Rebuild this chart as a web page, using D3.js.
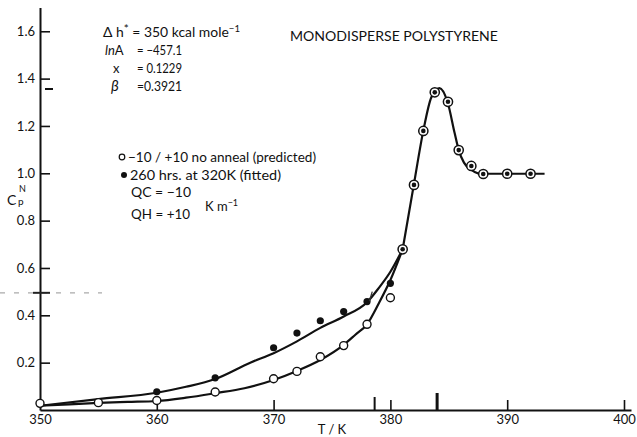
<!DOCTYPE html>
<html>
<head>
<meta charset="utf-8">
<script src="https://cdn.jsdelivr.net/npm/d3@7"></script>
<style>
  body { margin: 0; background: #fff; }
  text { font-family: Lato, "DejaVu Sans", sans-serif; fill: #111; }
</style>
</head>
<body>
<script>
// axis ticks
const xTicks = [350, 360, 370, 380, 390, 400];
const yTicks = [0.2, 0.4, 0.6, 0.8, 1.0, 1.2, 1.4, 1.6];

// open circles: -10/+10 no anneal (predicted)
const predictedT = [350, 355, 360, 365, 370, 372, 374, 376, 378, 380];
const predictedV = [0.028, 0.031, 0.040, 0.076, 0.132, 0.163, 0.225, 0.272, 0.362, 0.474];

// filled dots: 260 hrs at 320K (fitted)
const fittedT = [360, 365, 370, 372, 374, 376, 378, 380];
const fittedV = [0.077, 0.136, 0.263, 0.325, 0.377, 0.416, 0.458, 0.535];

// points where both coincide
const sharedT = [381.05, 382.02, 382.82, 383.8, 384.93, 385.85, 386.93, 387.95, 390, 392];
const sharedV = [0.679, 0.951, 1.179, 1.342, 1.302, 1.098, 1.031, 0.997, 0.998, 0.998];

// drawn curves
const predCurveT = [350, 352.5, 355, 357.5, 360, 362.5, 365, 367.5, 370, 372, 374, 376, 377, 378, 379, 380, 381.05];
const predCurveV = [0.018, 0.024, 0.030, 0.034, 0.038, 0.052, 0.071, 0.092, 0.127, 0.165, 0.211, 0.275, 0.318, 0.362, 0.450, 0.549, 0.679];
const fitCurveT = [350, 355, 360, 362.5, 365, 368, 370, 372, 374, 376, 378, 379, 380, 381.05];
const fitCurveV = [0.018, 0.046, 0.073, 0.098, 0.131, 0.2, 0.24, 0.29, 0.347, 0.395, 0.455, 0.515, 0.584, 0.679];
const peakCurveT = [381.05, 382, 382.8, 383.5, 384.2, 384.9, 385.5, 385.85, 386.3, 386.9, 387.5, 388, 390, 392, 393.2];
const peakCurveV = [0.679, 0.95, 1.175, 1.32, 1.36, 1.30, 1.17, 1.098, 1.045, 1.015, 1.0, 0.998, 0.998, 0.998, 0.998];

// pencil marks on the axes
const axisMarksT = [378.65, 384.0];
const peakMarkV = 1.356;

const svg = d3.select("body").append("svg")
    .attr("width", 637).attr("height", 437);

let x = d3.scaleLinear().domain([350, 400.6]).range([40, 631]);
let y = d3.scaleLinear().domain([0, 1.7]).range([410, 7.6]);

// axes
let xAxis = svg.append("g")
    .attr("transform", "translate(0," + y(0) + ")")
    .call(d3.axisBottom(x).tickValues(xTicks).tickSizeInner(-10).tickSizeOuter(0).tickPadding(5));
let yAxis = svg.append("g")
    .attr("transform", "translate(" + x(350) + ",0)")
    .call(d3.axisLeft(y).tickValues(yTicks).tickSizeInner(-10).tickSizeOuter(0).tickPadding(5)
        .tickFormat(d3.format(".1f")));

[xAxis, yAxis].forEach(function(g){
    g.select(".domain").attr("stroke", "#111").attr("stroke-width", 2);
    g.selectAll(".tick line").attr("stroke", "#111").attr("stroke-width", 1.6);
    g.selectAll(".tick text").attr("font-size", 13).attr("font-family", "Lato").attr("fill", "#111");
});
xAxis.selectAll(".tick").filter(function(d){ return d === 350; }).select("line").remove();

// extra marks
svg.selectAll(".amark").data(axisMarksT).enter().append("line")
    .attr("x1", function(d){ return x(d); }).attr("x2", function(d){ return x(d); })
    .attr("y1", function(d, i){ return y(0) - (i ? 17 : 13); }).attr("y2", y(0))
    .attr("stroke", "#111").attr("stroke-width", function(d, i){ return i ? 3 : 2; });
svg.append("line")
    .attr("x1", x(350) + 5).attr("x2", x(350) + 13)
    .attr("y1", y(peakMarkV)).attr("y2", y(peakMarkV))
    .attr("stroke", "#111").attr("stroke-width", 2);
svg.append("line")
    .attr("x1", 0).attr("x2", 102)
    .attr("y1", y(0.495)).attr("y2", y(0.495))
    .attr("stroke", "#aaa").attr("stroke-width", 1.2).attr("stroke-dasharray", "5,9");
svg.append("line")
    .attr("x1", 33).attr("x2", 50)
    .attr("y1", y(0.495)).attr("y2", y(0.495))
    .attr("stroke", "#222").attr("stroke-width", 2);

// curves
let line = d3.line()
    .x(function(d){ return x(d[0]); })
    .y(function(d){ return y(d[1]); })
    .curve(d3.curveMonotoneX);

[[predCurveT, predCurveV], [fitCurveT, fitCurveV], [peakCurveT, peakCurveV]].forEach(function(c){
    svg.append("path")
        .datum(d3.zip(c[0], c[1]))
        .attr("d", line)
        .attr("fill", "none")
        .attr("stroke", "#111")
        .attr("stroke-width", 2.2);
});

// markers
svg.selectAll(".pred").data(d3.zip(predictedT, predictedV)).enter().append("circle")
    .attr("cx", function(d){ return x(d[0]); }).attr("cy", function(d){ return y(d[1]); })
    .attr("r", 4).attr("fill", "#fff").attr("stroke", "#111").attr("stroke-width", 1.4);
svg.selectAll(".fit").data(d3.zip(fittedT, fittedV)).enter().append("circle")
    .attr("cx", function(d){ return x(d[0]); }).attr("cy", function(d){ return y(d[1]); })
    .attr("r", 3.6).attr("fill", "#111");
let shared = svg.selectAll(".shared").data(d3.zip(sharedT, sharedV)).enter().append("g")
    .attr("transform", function(d){ return "translate(" + x(d[0]) + "," + y(d[1]) + ")"; });
shared.append("circle").attr("r", 4.6).attr("fill", "#fff").attr("stroke", "#111").attr("stroke-width", 1.5);
shared.append("circle").attr("r", 2.3).attr("fill", "#111");

// stray pencil stroke
svg.append("line").attr("x1", x(378.2)).attr("y1", y(0.46)).attr("x2", x(378.45)).attr("y2", y(0.5))
    .attr("stroke", "#333").attr("stroke-width", 1.3);

// axis titles
svg.append("text").attr("x", 7).attr("y", 205).attr("font-size", 14).text("C");
svg.append("text").attr("x", 18).attr("y", 205).attr("font-size", 10).text("p");
svg.append("text").attr("x", 19).attr("y", 192).attr("font-size", 9).text("N");

svg.append("text").attr("x", 332).attr("y", 434).attr("text-anchor", "middle")
    .attr("font-size", 13).text("T / K");

// title
svg.append("text").attr("x", 290).attr("y", 41).attr("font-size", 14)
    .attr("textLength", 208).attr("lengthAdjust", "spacingAndGlyphs")
    .text("MONODISPERSE POLYSTYRENE");

// parameters
let p1 = svg.append("text").attr("x", 103).attr("y", 37).attr("font-size", 13)
    .attr("textLength", 137).attr("lengthAdjust", "spacingAndGlyphs");
p1.append("tspan").text("Δ h");
p1.append("tspan").attr("dy", -4).attr("font-size", 11).text("*");
p1.append("tspan").attr("dy", 4).text(" = 350 kcal mole");
p1.append("tspan").attr("dy", -5).attr("font-size", 9).text("−1");

let p2 = svg.append("text").attr("x", 105).attr("y", 55).attr("font-size", 13);
p2.append("tspan").attr("font-style", "italic").text("ln");
p2.append("tspan").text("A");
svg.append("text").attr("x", 137).attr("y", 55).attr("font-size", 13)
    .attr("textLength", 45).attr("lengthAdjust", "spacingAndGlyphs").text("= −457.1");

svg.append("text").attr("x", 113).attr("y", 73).attr("font-size", 13).text("x");
svg.append("text").attr("x", 137).attr("y", 73).attr("font-size", 13)
    .attr("textLength", 45).attr("lengthAdjust", "spacingAndGlyphs").text("= 0.1229");

svg.append("text").attr("x", 111).attr("y", 91).attr("font-size", 15).attr("font-style", "italic").text("β");
svg.append("text").attr("x", 137).attr("y", 91).attr("font-size", 13)
    .attr("textLength", 45).attr("lengthAdjust", "spacingAndGlyphs").text("=0.3921");

// legend
svg.append("circle").attr("cx", 122).attr("cy", 157).attr("r", 2.8)
    .attr("fill", "#fff").attr("stroke", "#111").attr("stroke-width", 1.2);
svg.append("text").attr("x", 128).attr("y", 161.5).attr("font-size", 13)
    .attr("textLength", 188).attr("lengthAdjust", "spacingAndGlyphs")
    .text("−10 / +10 no anneal (predicted)");
svg.append("circle").attr("cx", 124).attr("cy", 175).attr("r", 3).attr("fill", "#111");
svg.append("text").attr("x", 130).attr("y", 179.5).attr("font-size", 13)
    .attr("textLength", 151).attr("lengthAdjust", "spacingAndGlyphs")
    .text("260 hrs. at 320K (fitted)");

svg.append("text").attr("x", 131).attr("y", 197).attr("font-size", 13)
    .attr("textLength", 60).attr("lengthAdjust", "spacingAndGlyphs").text("QC = −10");
svg.append("text").attr("x", 131).attr("y", 219).attr("font-size", 13)
    .attr("textLength", 59).attr("lengthAdjust", "spacingAndGlyphs").text("QH = +10");
let km = svg.append("text").attr("x", 205).attr("y", 211).attr("font-size", 13);
km.append("tspan").text("K m");
km.append("tspan").attr("dy", -5).attr("font-size", 9).text("−1");
</script>
</body>
</html>
